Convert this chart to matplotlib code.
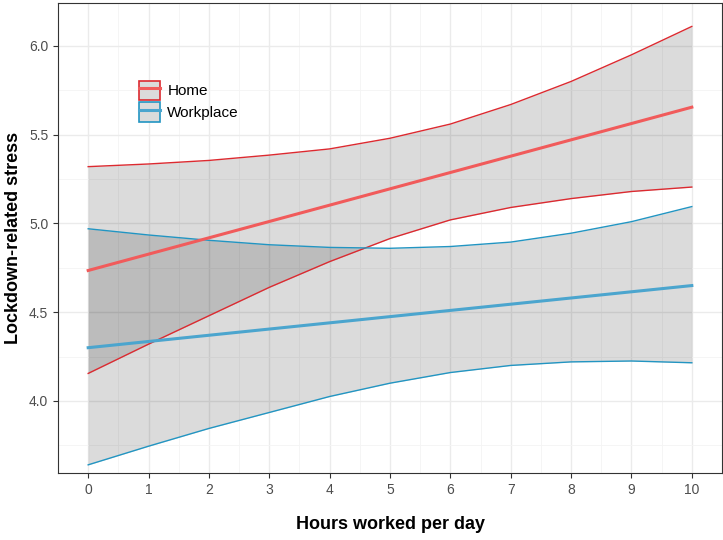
import numpy as np
import matplotlib.pyplot as plt
from matplotlib.patches import Patch
from matplotlib.lines import Line2D

plt.rcParams['font.family'] = ['Liberation Sans', 'DejaVu Sans']

# часы
hours = [0, 1, 2, 3, 4, 5, 6, 7, 8, 9, 10]

home_fit = [4.735, 4.827, 4.919, 5.011, 5.103, 5.195, 5.287, 5.379, 5.471, 5.563, 5.655]
home_upper = [5.32, 5.335, 5.355, 5.385, 5.42, 5.48, 5.56, 5.67, 5.80, 5.95, 6.11]
home_lower = [4.155, 4.32, 4.48, 4.64, 4.785, 4.915, 5.02, 5.09, 5.14, 5.18, 5.205]

work_fit = [4.30, 4.335, 4.37, 4.405, 4.44, 4.475, 4.51, 4.545, 4.58, 4.615, 4.65]
work_upper = [4.97, 4.935, 4.905, 4.88, 4.865, 4.86, 4.87, 4.895, 4.945, 5.01, 5.095]
work_lower = [3.64, 3.745, 3.845, 3.935, 4.025, 4.10, 4.16, 4.20, 4.22, 4.225, 4.215]

home_col = '#F15B5B'
home_edge = '#DC2A30'
work_col = '#4BA5CE'
work_edge = '#2295C2'

fig = plt.figure(figsize=(7.23, 5.4), dpi=100)
ax = fig.add_axes([58/723, 67/540, 664/723, 470/540])

# ленты
ax.fill_between(hours, home_lower, home_upper, color='black', alpha=0.14, lw=0, zorder=2)
ax.fill_between(hours, work_lower, work_upper, color='black', alpha=0.14, lw=0, zorder=2)

ax.plot(hours, home_upper, color=home_edge, lw=1.0, zorder=3)
ax.plot(hours, home_lower, color=home_edge, lw=1.0, zorder=3)
ax.plot(hours, work_upper, color=work_edge, lw=1.0, zorder=3)
ax.plot(hours, work_lower, color=work_edge, lw=1.0, zorder=3)
ax.plot(hours, home_fit, color=home_col, lw=2.2, zorder=4)
ax.plot(hours, work_fit, color=work_col, lw=2.2, zorder=4)

ax.set_xlim(-0.48, 10.5)
ax.set_ylim(3.594, 6.242)
ax.set_xticks(range(0, 11))
ax.set_xticks(np.arange(-0.5, 10.6, 1.0), minor=True)
ax.set_yticks([4.0, 4.5, 5.0, 5.5, 6.0])
ax.set_yticklabels(['4.0', '4.5', '5.0', '5.5', '6.0'])
ax.set_yticks([3.75, 4.25, 4.75, 5.25, 5.75], minor=True)
ax.grid(True, which='major', color='#EBEBEB', lw=1.0, zorder=0)
ax.grid(True, which='minor', color='#F4F4F4', lw=0.6, zorder=0)
ax.set_axisbelow(True)
ax.tick_params(which='major', length=3.5, color='#333333', labelsize=10, labelcolor='#4D4D4D', width=0.8)
ax.tick_params(which='minor', length=0)
for s in ax.spines.values():
    s.set_color('#333333')
    s.set_linewidth(0.8)

ax.set_xlabel('Hours worked per day', fontsize=13, fontweight='bold', labelpad=14)
ax.set_ylabel('Lockdown-related stress', fontsize=13, fontweight='bold', labelpad=5)

handles = [
    (Patch(facecolor='#DBDBDB', edgecolor=home_edge, lw=1.2), Line2D([], [], color=home_col, lw=2.2)),
    (Patch(facecolor='#DBDBDB', edgecolor=work_edge, lw=1.2), Line2D([], [], color=work_col, lw=2.2)),
]
ax.legend(handles, ['Home', 'Workplace'], loc='upper left', bbox_to_anchor=(0.122, 0.835),
          frameon=False, fontsize=11, handlelength=1.4, handleheight=1.6,
          handletextpad=0.45, labelspacing=0.15, borderaxespad=0, borderpad=0)

fig.savefig('out.png', dpi=100)
